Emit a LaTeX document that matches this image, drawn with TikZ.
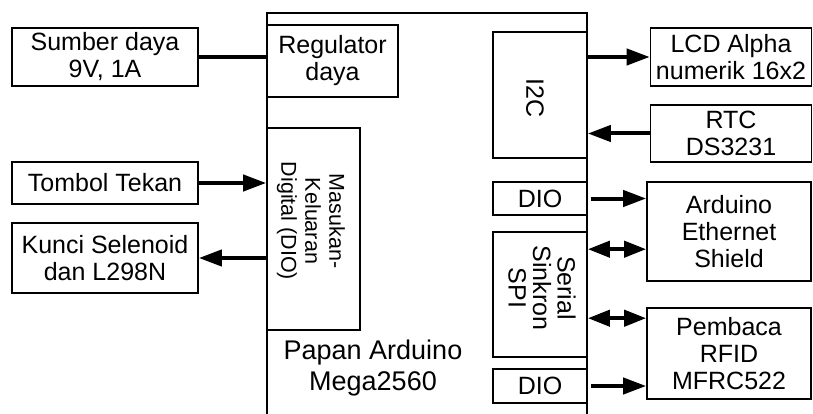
\documentclass[tikz,border=0pt]{standalone}
\usepackage{fontspec}
\setmainfont{Liberation Sans}
\usetikzlibrary{arrows.meta,calc}
\begin{document}
\begin{tikzpicture}[x=1pt,y=-1pt,
  box/.style={draw, line width=1.6pt, inner sep=0pt, align=center, font=\fontsize{25}{27}\selectfont},
  conn/.style={line width=4pt},
  arr/.style={conn, -{Triangle[length=23pt,width=16pt]}},
  barr/.style={conn, {Triangle[length=22pt,width=16pt]}-{Triangle[length=22pt,width=16pt]}},
  txt/.style={inner sep=0pt, align=center}]
\useasboundingbox (0,0) rectangle (813,414);
% board outline (open at the bottom)
\coordinate (bl) at (267,414);
\coordinate (tl) at (267,13);
\coordinate (tr) at (587,13);
\coordinate (br) at (587,414);
\draw[line width=1.6pt] (bl) -- (tl) -- (tr) -- (br);
% left side
\node[box, minimum width=186, minimum height=58] (sumber) at (105,57) {Sumber daya\\9V, 1A};
\node[box, minimum width=131, minimum height=72] (reg) at (332.5,61) {Regulator\\daya};
\node[box, minimum width=186, minimum height=42] (tombol) at (105,183) {Tombol Tekan};
\node[box, minimum width=186, minimum height=70] (kunci) at (105,258) {Kunci Selenoid\\dan L298N};
\node[box, minimum width=93, minimum height=202] (dio) at (313.5,229) {};
\node[txt, rotate=-90, font=\fontsize{21.5}{24}\selectfont] (dioT) at (311,221) {Masukan-\\Keluaran\\Digital (DIO)};
\node[txt, font=\fontsize{27}{31}\selectfont] (papan) at (373,368) {Papan Arduino\\Mega2560};
% right side
\node[box, minimum width=94, minimum height=126] (i2c) at (540,95) {};
\node[txt, rotate=-90, font=\fontsize{25}{27}\selectfont] (i2cT) at (535,98) {I2C};
\node[box, minimum width=161, minimum height=58] (lcd) at (731,57) {LCD Alpha\\numerik 16x2};
\node[box, minimum width=161, minimum height=57] (rtc) at (731,133.5) {RTC\\DS3231};
\node[box, minimum width=94, minimum height=33] (dio1) at (540,198.5) {DIO};
\node[box, minimum width=164, minimum height=99] (eth) at (729,231.5) {Arduino\\Ethernet\\Shield};
\node[box, minimum width=94, minimum height=125] (spi) at (540,294.5) {};
\node[txt, rotate=-90, font=\fontsize{25}{24.5}\selectfont] (spiT) at (542,288) {Serial\\Sinkron\\SPI};
\node[box, minimum width=164, minimum height=91] (rfid) at (729,353.5) {Pembaca\\RFID\\MFRC522};
\node[box, minimum width=94, minimum height=34] (dio2) at (540,386) {DIO};
\coordinate (e1) at ($(eth.north west)+(0,68)$);
\coordinate (r1) at ($(rfid.north west)+(0,11)$);
% connectors
\draw[conn] (sumber.east) -- (sumber.east -| reg.west);
\draw[arr] (tombol.east) -- (tombol.east -| dio.west);
\draw[arr] (kunci.east -| dio.west) -- (kunci.east);
\draw[arr] (lcd.west -| i2c.east) -- (lcd.west);
\draw[arr] (rtc.west) -- (rtc.west -| i2c.east);
\draw[arr] ([xshift=3pt]dio1.east) -- (dio1.east -| eth.west);
\draw[barr] (e1 -| spi.east) -- (e1);
\draw[barr] (r1 -| spi.east) -- (r1);
\draw[arr] ([xshift=3pt]dio2.east) -- (dio2.east -| rfid.west);
\end{tikzpicture}
\end{document}
